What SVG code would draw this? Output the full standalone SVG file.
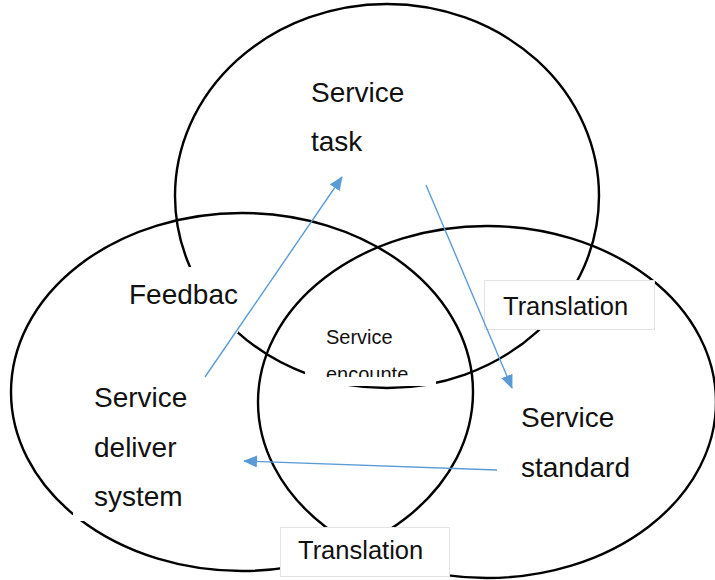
<svg xmlns="http://www.w3.org/2000/svg" width="715" height="580" viewBox="0 0 715 580">
  <defs>
    <marker id="arrow" viewBox="0 0 14 12" refX="13" refY="6" markerWidth="14" markerHeight="12" markerUnits="userSpaceOnUse" orient="auto">
      <path d="M0,0 L14,6 L0,12 z" fill="#5b9bd5"/>
    </marker>
    <clipPath id="encounterClip">
      <rect x="305" y="318" width="131" height="59"/>
    </clipPath>
  </defs>
  <style>
    .ring { fill: none; stroke: #000; stroke-width: 2.4; }
    .pad { fill: #fff; stroke: none; }
    .boxed { fill: #fff; stroke: #e3e3e3; stroke-width: 1; }
    .label { font-family: "Liberation Sans", Arial, sans-serif; font-size: 28px; fill: #111; }
    .small { font-family: "Liberation Sans", Arial, sans-serif; font-size: 20px; fill: #111; }
    .trans { font-family: "Liberation Sans", Arial, sans-serif; font-size: 25.5px; fill: #111; }
    .flow { fill: none; stroke: #5b9bd5; stroke-width: 1.4; marker-end: url(#arrow); }
  </style>
  <rect width="715" height="580" fill="#fff"/>

  <!-- three overlapping circles -->
  <g id="rings">
    <ellipse class="ring" cx="387" cy="196" rx="212" ry="192"/>
    <ellipse class="ring" cx="242" cy="392" rx="231" ry="179"/>
    <ellipse class="ring" cx="487" cy="402" rx="229" ry="176"/>
  </g>

  <g id="service-task">
    <rect class="pad" x="300" y="75" width="120" height="88"/>
    <text class="label" x="311" y="102">Service</text>
    <text class="label" x="311" y="151">task</text>
  </g>

  <g id="feedback">
    <rect class="pad" x="110" y="267" width="128" height="66"/>
    <text class="label" x="129" y="304">Feedbac</text>
  </g>

  <g id="service-encounter">
    <rect class="pad" x="305" y="318" width="131" height="68"/>
    <g clip-path="url(#encounterClip)">
      <text class="small" x="326" y="344">Service</text>
      <text class="small" x="326" y="381">encounte</text>
    </g>
  </g>

  <g id="service-delivery-system">
    <rect class="pad" x="73" y="372" width="130" height="149"/>
    <text class="label" x="94" y="407">Service</text>
    <text class="label" x="94" y="457">deliver</text>
    <text class="label" x="94" y="506">system</text>
  </g>

  <g id="service-standard">
    <rect class="pad" x="510" y="396" width="135" height="92"/>
    <text class="label" x="521" y="427">Service</text>
    <text class="label" x="521" y="477">standard</text>
  </g>

  <g id="translation-right">
    <rect class="boxed" x="484.5" y="280.5" width="170" height="49"/>
    <text class="trans" x="503" y="315">Translation</text>
  </g>

  <g id="translation-bottom">
    <rect class="boxed" x="280.5" y="527.5" width="169" height="49"/>
    <text class="trans" x="298" y="559">Translation</text>
  </g>

  <!-- flows between the circles -->
  <g id="connectors">
    <line class="flow" x1="205" y1="377" x2="342" y2="177"/>
    <line class="flow" x1="426" y1="185" x2="512" y2="388"/>
    <line class="flow" x1="497" y1="470" x2="244" y2="461"/>
  </g>
</svg>
